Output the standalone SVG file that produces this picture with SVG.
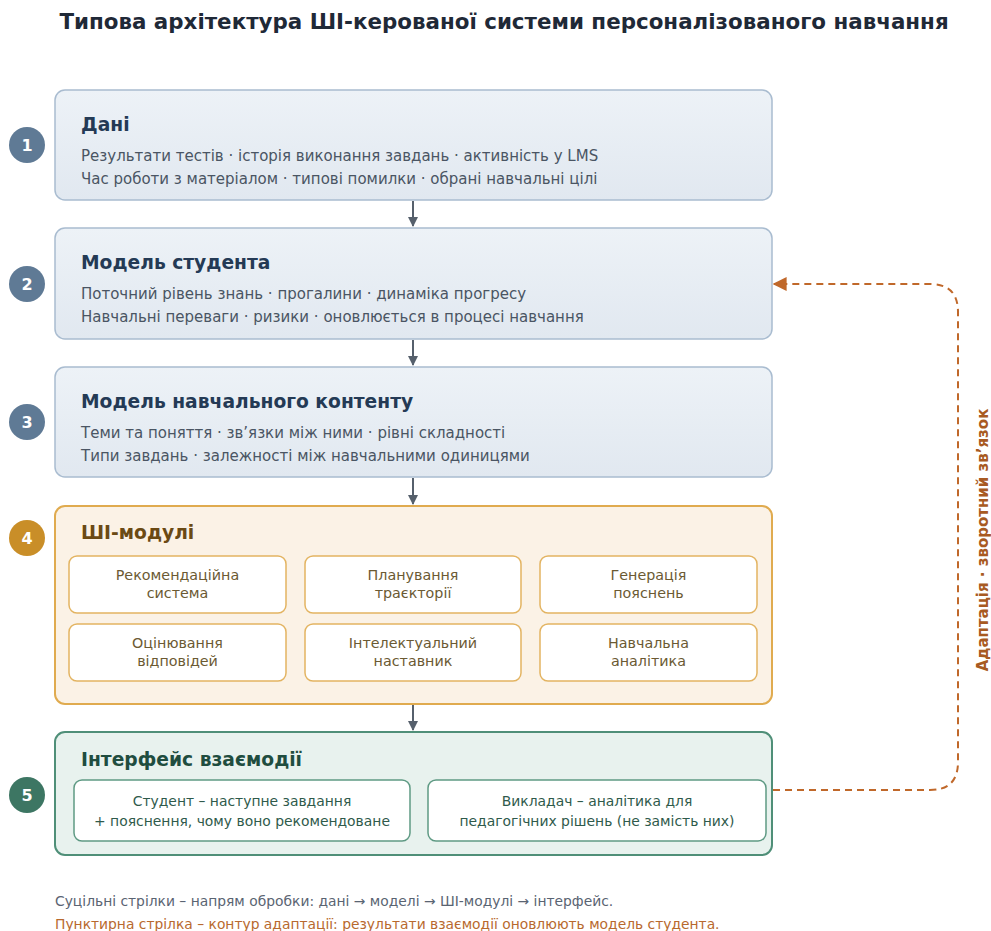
<svg xmlns="http://www.w3.org/2000/svg" width="991" height="931" viewBox="0 0 991 931">
<defs>
<linearGradient id="gBlue" x1="0" y1="0" x2="0" y2="1">
<stop offset="0" stop-color="#edf2f7"/>
<stop offset="1" stop-color="#e1e8f0"/>
</linearGradient>
<marker id="arr" viewBox="0 0 10 10" refX="9" refY="5" markerWidth="10" markerHeight="10" markerUnits="userSpaceOnUse" orient="auto">
<path d="M0,0 L10,5 L0,10 z" fill="#56606c"/>
</marker>
<marker id="arrO" viewBox="0 0 10 10" refX="9" refY="5" markerWidth="14" markerHeight="14" markerUnits="userSpaceOnUse" orient="auto">
<path d="M0,0 L10,5 L0,10 z" fill="#c0682a"/>
</marker>
<style>
text{font-family:"DejaVu Sans","Noto Sans",sans-serif;}
.title{font-size:21.4px;font-weight:bold;fill:#1f2937;}
.blue{fill:url(#gBlue);stroke:#a9bcd0;stroke-width:1.5;}
.h{font-size:18.7px;font-weight:bold;fill:#243a55;}
.t{font-size:15px;fill:#4a5563;}
.num{font-size:16px;font-weight:bold;fill:#ffffff;text-anchor:middle;}
.mod{fill:#ffffff;stroke:#e3b462;stroke-width:1.5;}
.mt{font-size:14.3px;fill:#6b5a33;text-anchor:middle;}
.ui{fill:#ffffff;stroke:#5f9a84;stroke-width:1.5;}
.ut{font-size:13.9px;fill:#2f5a4b;text-anchor:middle;}
.flow{stroke:#56606c;stroke-width:2;fill:none;}
</style>
</defs>
<rect width="991" height="931" fill="#ffffff"/>
<text class="title" x="504" y="29" text-anchor="middle">Типова архітектура ШІ-керованої системи персоналізованого навчання</text>

<g id="node1">
<rect class="blue" x="55" y="90" width="717" height="110" rx="10"/>
<circle cx="27" cy="145" r="18" fill="#5f7a95"/>
<text class="num" x="27" y="151">1</text>
<text class="h" x="81" y="131">Дані</text>
<text class="t" x="81" y="161">Результати тестів · історія виконання завдань · активність у LMS</text>
<text class="t" x="81" y="184">Час роботи з матеріалом · типові помилки · обрані навчальні цілі</text>
</g>

<g id="node2">
<rect class="blue" x="55" y="228" width="717" height="111" rx="10"/>
<circle cx="27" cy="284" r="18" fill="#5f7a95"/>
<text class="num" x="27" y="290">2</text>
<text class="h" x="81" y="269">Модель студента</text>
<text class="t" x="81" y="299">Поточний рівень знань · прогалини · динаміка прогресу</text>
<text class="t" x="81" y="322">Навчальні переваги · ризики · оновлюється в процесі навчання</text>
</g>

<g id="node3">
<rect class="blue" x="55" y="367" width="717" height="110" rx="10"/>
<circle cx="27" cy="422" r="18" fill="#5f7a95"/>
<text class="num" x="27" y="428">3</text>
<text class="h" x="81" y="408">Модель навчального контенту</text>
<text class="t" x="81" y="438">Теми та поняття · зв’язки між ними · рівні складності</text>
<text class="t" x="81" y="461">Типи завдань · залежності між навчальними одиницями</text>
</g>

<g id="node4">
<rect x="55" y="506" width="717" height="198" rx="10" fill="#fbf2e6" stroke="#e0ab4f" stroke-width="2"/>
<circle cx="27" cy="538" r="18" fill="#c98e28"/>
<text class="num" x="27" y="544">4</text>
<text class="h" x="81" y="539" style="fill:#6b4a14">ШІ-модулі</text>
<rect class="mod" x="69" y="556" width="217" height="57" rx="8"/>
<text class="mt" x="177.5" y="580">Рекомендаційна</text>
<text class="mt" x="177.5" y="598">система</text>
<rect class="mod" x="305" y="556" width="216" height="57" rx="8"/>
<text class="mt" x="413" y="580">Планування</text>
<text class="mt" x="413" y="598">траєкторії</text>
<rect class="mod" x="540" y="556" width="217" height="57" rx="8"/>
<text class="mt" x="648.5" y="580">Генерація</text>
<text class="mt" x="648.5" y="598">пояснень</text>
<rect class="mod" x="69" y="624" width="217" height="57" rx="8"/>
<text class="mt" x="177.5" y="648">Оцінювання</text>
<text class="mt" x="177.5" y="666">відповідей</text>
<rect class="mod" x="305" y="624" width="216" height="57" rx="8"/>
<text class="mt" x="413" y="648">Інтелектуальний</text>
<text class="mt" x="413" y="666">наставник</text>
<rect class="mod" x="540" y="624" width="217" height="57" rx="8"/>
<text class="mt" x="648.5" y="648">Навчальна</text>
<text class="mt" x="648.5" y="666">аналітика</text>
</g>

<g id="node5">
<rect x="55" y="732" width="717" height="123" rx="10" fill="#e8f2ee" stroke="#4f8f78" stroke-width="2"/>
<circle cx="27" cy="795" r="18" fill="#3d7663"/>
<text class="num" x="27" y="801">5</text>
<text class="h" x="81" y="766" style="fill:#1f4d3f">Інтерфейс взаємодії</text>
<rect class="ui" x="74" y="780" width="336" height="61" rx="8"/>
<text class="ut" x="242" y="806">Студент – наступне завдання</text>
<text class="ut" x="242" y="826">+ пояснення, чому воно рекомендоване</text>
<rect class="ui" x="428" y="780" width="338" height="61" rx="8"/>
<text class="ut" x="597" y="806">Викладач – аналітика для</text>
<text class="ut" x="597" y="826">педагогічних рішень (не замість них)</text>
</g>

<g id="connectors">
<line class="flow" x1="413" y1="201" x2="413" y2="226" marker-end="url(#arr)"/>
<line class="flow" x1="413" y1="340" x2="413" y2="365" marker-end="url(#arr)"/>
<line class="flow" x1="413" y1="478" x2="413" y2="504" marker-end="url(#arr)"/>
<line class="flow" x1="413" y1="705" x2="413" y2="730" marker-end="url(#arr)"/>
<path d="M773,790 L930,790 Q958,790 958,762 L958,312 Q958,284 930,284 L774,284" fill="none" stroke="#c0682a" stroke-width="2" stroke-dasharray="7,5" marker-end="url(#arrO)"/>
<text x="988" y="540" transform="rotate(-90 988 540)" text-anchor="middle" style="font-size:15px;font-weight:bold;fill:#a85a22">Адаптація · зворотний зв’язок</text>
</g>

<text x="55" y="906" style="font-size:13.85px;fill:#5a6472">Суцільні стрілки – напрям обробки: дані → моделі → ШІ-модулі → інтерфейс.</text>
<text x="55" y="929" style="font-size:13.85px;fill:#b8692e">Пунктирна стрілка – контур адаптації: результати взаємодії оновлюють модель студента.</text>
</svg>
